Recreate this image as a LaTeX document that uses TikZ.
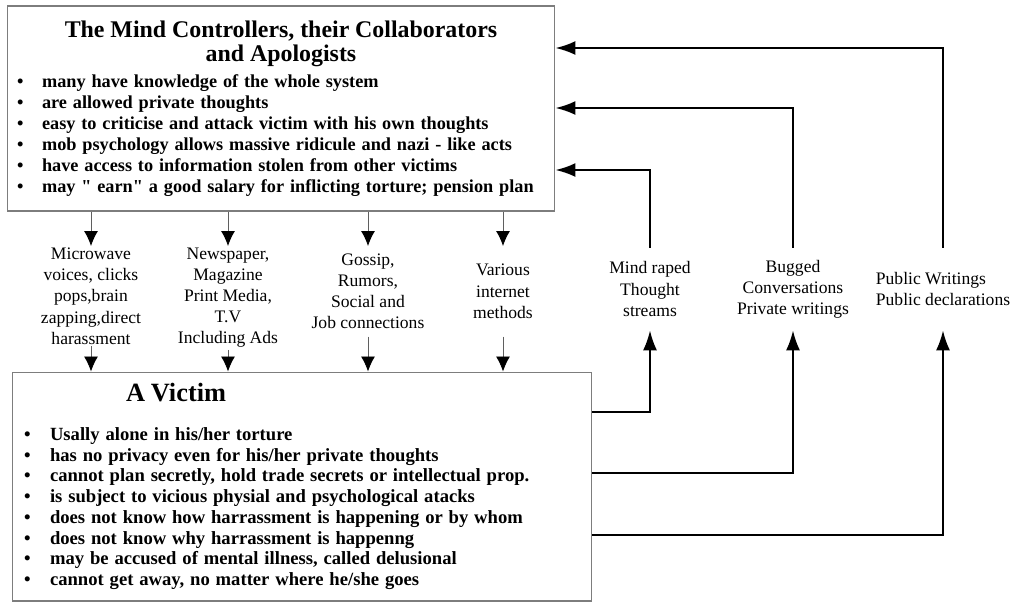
\documentclass[tikz,border=0pt]{standalone}
\usepackage{fontspec}
\setmainfont{Liberation Serif}
\usetikzlibrary{arrows.meta}
\definecolor{box_gray}{RGB}{125,125,125}
\definecolor{stem_gray}{RGB}{95,95,95}
\newcommand\bitem[2]{\makebox[#1][l]{\textbullet}#2\par}

\begin{document}
\begin{tikzpicture}[x=0.02cm,y=-0.02cm]
    \tikzstyle{panel}=[draw=box_gray, line width=0.6pt, rectangle, inner ysep=0pt, text=black]
    \tikzstyle{lbl}=[align=center, font=\fontsize{10}{12}\selectfont, inner sep=1pt, text=black]
    \tikzstyle{chan}=[style=lbl, anchor=north, minimum height=1.8cm]
    \tikzstyle{leak}=[style=lbl, minimum height=1.64cm]
    \tikzstyle{dn}=[-{Latex[length=0.3cm,width=0.28cm,color=black]}, draw=stem_gray, line width=0.5pt]
    \tikzstyle{fb}=[-{Latex[length=0.4cm,width=0.28cm]}, draw=black, line width=1.2pt]

    \useasboundingbox (0,0) rectangle (1021,606);

    % the two panels
    \node[panel, inner xsep=0.2cm, text width=10.56cm, minimum height=4.1cm] (ctrl) at (281,108.5) {%
      \parindent=0pt
      {\centering\fontsize{13.6}{13.6}\selectfont\bfseries
       The Mind Controllers, their Collaborators\\and Apologists\par}
      \vspace{0.12cm}
      {\raggedright\fontsize{10.4}{11.9}\selectfont\bfseries
       \bitem{0.5cm}{many have knowledge of the whole system}
       \bitem{0.5cm}{are allowed private thoughts}
       \bitem{0.5cm}{easy to criticise and attack victim with his own thoughts}
       \bitem{0.5cm}{mob psychology allows massive ridicule and nazi - like acts}
       \bitem{0.5cm}{have access to information stolen from other victims}
       \bitem{0.5cm}{may \textquotedbl{} earn\textquotedbl{} a good salary for inflicting torture; pension plan}}};

    \node[panel, inner xsep=0.24cm, text width=11.12cm, minimum height=4.58cm] (vic) at (302,486.5) {%
      \parindent=0pt
      {\fontsize{15}{17}\selectfont\bfseries\hspace*{2.04cm}A Victim\par}
      \vspace{0.36cm}
      {\raggedright\fontsize{10.6}{11.8}\selectfont\bfseries
       \bitem{0.52cm}{Usally alone in his/her torture}
       \bitem{0.52cm}{has no privacy even for his/her private thoughts}
       \bitem{0.52cm}{cannot plan secretly, hold trade secrets or intellectual prop.}
       \bitem{0.52cm}{is subject to vicious physial and psychological atacks}
       \bitem{0.52cm}{does not know how harrassment is happening or by whom}
       \bitem{0.52cm}{does not know why harrassment is happenng}
       \bitem{0.52cm}{may be accused of mental illness, called delusional}
       \bitem{0.52cm}{cannot get away, no matter where he/she goes}}};

    % channels from the controllers to the victim
    \node[chan] (mw) at (91,246)  {Microwave\\voices, clicks\\pops,brain\\zapping,direct\\harassment};
    \node[chan] (np) at (228,246) {Newspaper,\\Magazine\\Print Media,\\T.V\\Including Ads};
    \node[chan] (gs) at (368,246) {Gossip,\\Rumors,\\Social and\\Job connections};
    \node[chan] (vm) at (503,246) {Various\\internet\\methods};

    % what leaks back from the victim
    \node[leak] (mr) at (650,289) {Mind raped\\Thought\\streams};
    \node[leak] (bg) at (793,289) {Bugged\\Conversations\\Private writings};
    \node[leak, align=left] (pw) at (943,289) {Public Writings\\Public declarations};

    \foreach \c in {mw,np,gs,vm} {
      \draw[dn] (ctrl.south -| \c.north) -- (\c.north);
      \draw[dn] (\c.south) -- (\c.south |- vic.north);
    }

    \draw[fb] (vic.east |- 0,412) -| (mr.south);
    \draw[fb] (vic.east |- 0,473) -| (bg.south);
    \draw[fb] (vic.east |- 0,535) -| (pw.south);
    \draw[fb] (mr.north) |- (ctrl.east |- 0,170);
    \draw[fb] (bg.north) |- (ctrl.east |- 0,108);
    \draw[fb] (pw.north) |- (ctrl.east |- 0,48);
\end{tikzpicture}
\end{document}
